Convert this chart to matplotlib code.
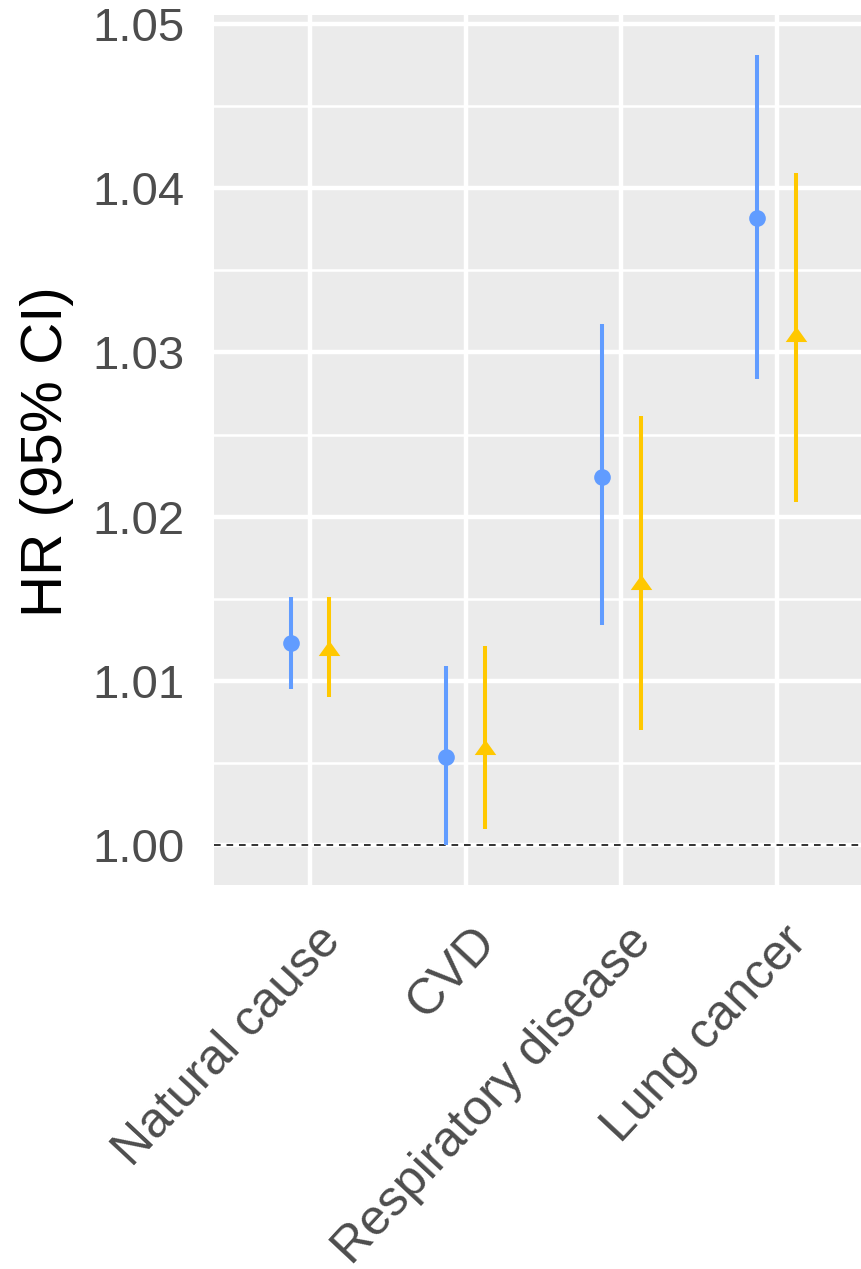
import numpy as np
import matplotlib
matplotlib.use("Agg")
import matplotlib.pyplot as plt
from matplotlib.ticker import FixedLocator
from matplotlib.transforms import ScaledTranslation

# Hazard ratios with 95% confidence intervals for each cause of death
categories = ["Natural cause", "CVD", "Respiratory disease", "Lung cancer"]

hr_a = [1.0123, 1.0054, 1.0224, 1.0382]
lo_a = [1.0095, 1.0000, 1.0134, 1.0284]
hi_a = [1.0151, 1.0109, 1.0317, 1.0481]

hr_b = [1.0120, 1.0060, 1.0160, 1.0311]
lo_b = [1.0090, 1.0010, 1.0070, 1.0209]
hi_b = [1.0151, 1.0121, 1.0261, 1.0409]

y_ticks = [1.00, 1.01, 1.02, 1.03, 1.04, 1.05]
y_tick_labels = ["1.00", "1.01", "1.02", "1.03", "1.04", "1.05"]
y_label = "HR (95% CI)"

plt.rcParams["font.family"] = ["Liberation Sans", "DejaVu Sans"]

W, H = 861, 1269
fig = plt.figure(figsize=(W / 100, H / 100), dpi=100)
ax = fig.add_axes([214 / W, 1 - 885 / H, 1 - 214 / W, (885 - 15) / H])

ax.set_facecolor("#EBEBEB")
for s in ax.spines.values():
    s.set_visible(False)

x = np.arange(1, len(categories) + 1)
dodge = 0.125
blue = "#619CFF"
gold = "#FFC800"

# reference line at HR = 1
ax.axhline(1.0, color="#111111", lw=1.2, linestyle=(0, (4, 3.5)), zorder=2)

# series A: circles
ax.vlines(x - dodge, lo_a, hi_a, color=blue, lw=2.9, zorder=3)
ax.plot(x - dodge, hr_a, linestyle="none", marker="o", ms=12,
        color=blue, mec="none", zorder=4)

# series B: triangles
tri = [(0, 0.7), (-1, -0.7), (1, -0.7)]
ax.vlines(x + dodge, lo_b, hi_b, color=gold, lw=2.9, zorder=3)
ax.plot(x + dodge, hr_b, linestyle="none", marker=tri, ms=15.5,
        color=gold, mec="none", zorder=4)

ax.set_xlim(1 - 96 / 155.5, 4 + (861 - 776.7) / 155.5)
ax.set_ylim(0.99758, 1.05054)

ax.set_yticks(y_ticks)
ax.set_yticklabels(y_tick_labels)
ax.yaxis.set_minor_locator(FixedLocator([1.005, 1.015, 1.025, 1.035, 1.045]))
ax.set_xticks(x)
ax.set_xticklabels(categories)

ax.grid(which="major", color="white", lw=3.2, zorder=0)
ax.grid(which="minor", axis="y", color="white", lw=1.8, zorder=0)
ax.set_axisbelow(True)

ax.tick_params(axis="both", which="both", length=0)
ax.tick_params(axis="y", labelsize=34, labelcolor="#4D4D4D", pad=21)
ax.tick_params(axis="x", labelsize=36, labelcolor="#4D4D4D", pad=0)

offset = ScaledTranslation(6 / 100, -33 / 100, fig.dpi_scale_trans)
for lbl in ax.get_xticklabels():
    lbl.set_rotation(47)
    lbl.set_rotation_mode("anchor")
    lbl.set_ha("right")
    lbl.set_va("top")
    lbl.set_transform(lbl.get_transform() + offset)

ylab = ax.set_ylabel(y_label, fontsize=42, color="black")
ylab.set_va("center")
ax.yaxis.set_label_coords(47 / W, 1 - 452 / H, transform=fig.transFigure)

fig.savefig("out.png", dpi=100)
